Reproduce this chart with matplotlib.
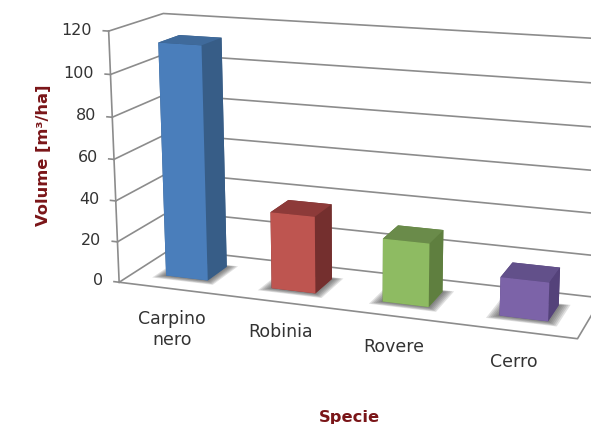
import numpy as np
import matplotlib
matplotlib.use("Agg")
import matplotlib.pyplot as plt
from mpl_toolkits.mplot3d import proj3d
from mpl_toolkits.mplot3d.art3d import Poly3DCollection

specie = ["Carpino\nnero", "Robinia", "Rovere", "Cerro"]
volume = [113, 37, 30, 18]
z_ticks = [0, 20, 40, 60, 80, 100, 120]

# bottom, top, front, back, left, right
colori = [
    ["#3f6a9b", "#3f6a9b", "#4a7ebb", "#375d87", "#375d87", "#375d87"],
    ["#8d3a39", "#8d3a39", "#be5550", "#742f2e", "#742f2e", "#742f2e"],
    ["#6a8b4a", "#6a8b4a", "#8ebb62", "#5f7f3f", "#5f7f3f", "#5f7f3f"],
    ["#62508a", "#62508a", "#7c63a8", "#54427a", "#54427a", "#54427a"],
]

plt.rcParams["font.family"] = ["DejaVu Sans"]

W, H = 591, 424
GRIGIO = "#8c8c8c"
ROSSO = "#7a1518"
TESTO = "#333333"

fig = plt.figure(figsize=(W / 100, H / 100), dpi=100)
# camera values fitted on the corners of the box in the picture
k, a, b = 2943.462, 356.745, 165.395
S = 0.185 * k
ax = fig.add_axes([(a - 0.095 * k) / W, (H - b - 0.095 * k) / H, S / W, S / H],
                  projection="3d", computed_zorder=False)
ax.set_xlim(0, 4, view_margin=0)
ax.set_ylim(0, 1, view_margin=0)
ax.set_zlim(0, 120, view_margin=0)
ax.view_init(elev=14.59, azim=-70.372)
ax.set_proj_type("persp", focal_length=0.5138)
ax.set_box_aspect((4, 0.998, 2.1901))
ax.set_axis_off()
M = ax.get_proj()


def testo(x, y, z, s, **kw):
    # text placed in 2D at the projected point of the box
    u, v, _ = proj3d.proj_transform(x, y, z, M)
    ax.text2D(u, v, s, transform=ax.transData, color=TESTO, **kw)


# griglia su parete sinistra e parete di fondo
for z in z_ticks:
    ax.plot([0, 0, 4], [0, 1, 1], [z, z, z], color=GRIGIO, lw=1.2, zorder=1)
    ax.plot([-0.05, 0], [0, 0], [z, z], color=GRIGIO, lw=1.2, zorder=1)
    testo(-0.155, 0, z, str(z), ha="right", va="center", fontsize=11.5)
ax.plot([0, 0], [0, 0], [0, 120], color=GRIGIO, lw=1.2, zorder=1)
ax.plot([0, 4, 4], [0, 0, 1], [0, 0, 0], color=GRIGIO, lw=1.2, zorder=1)

larg = 0.4
for i, v in enumerate(volume):
    x0 = i + 0.5 - larg / 2
    y0 = 0.5 - larg / 2
    # ombra sfumata alla base
    for d in (0.09, 0.075, 0.06, 0.045, 0.03, 0.015):
        ombra = [[(x0 - d, y0 - d, 0), (x0 + larg + d, y0 - d, 0),
                  (x0 + larg + d, y0 + larg + d * 0.5, 0), (x0 - d, y0 + larg + d * 0.5, 0)]]
        ax.add_collection3d(Poly3DCollection(ombra, facecolors="#444444", alpha=0.16,
                                             linewidths=0, zorder=2))
    ax.bar3d(x0, y0, 0, larg, larg, v, color=colori[i], shade=False, linewidth=0, zorder=3)
    due_righe = "\n" in specie[i]
    testo(i + 0.5, 0, -10.5 if due_righe else -14.5, specie[i], ha="center",
          va="top" if due_righe else "center", fontsize=12.5, linespacing=1.2)

fig.text(44 / W, 1 - 155 / H, "Volume [m³/ha]", rotation=90, ha="center", va="center",
         fontsize=11.7, fontweight="bold", color=ROSSO)
fig.text(349 / W, 1 - 417.5 / H, "Specie", ha="center", va="center",
         fontsize=11.7, fontweight="bold", color=ROSSO)

fig.savefig("out.png", dpi=100)
